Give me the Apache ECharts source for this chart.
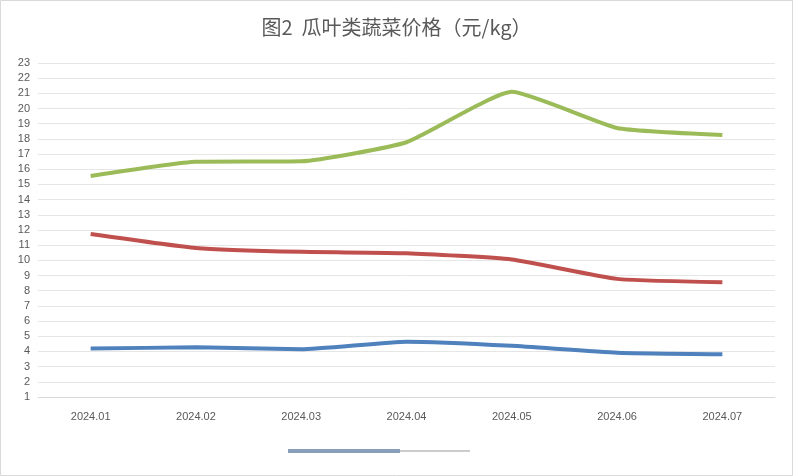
<!DOCTYPE html>
<html><head><meta charset="utf-8">
<script src="https://cdn.jsdelivr.net/npm/echarts@6/dist/echarts.min.js"></script>
<style>body{margin:0;background:#fff}#c{width:793px;height:476px}</style>
</head><body><div id="c"></div>
<script>
var months = ['2024.01', '2024.02', '2024.03', '2024.04', '2024.05', '2024.06', '2024.07'];
var greenVals = [15.56, 16.5, 16.53, 17.78, 21.10, 18.72, 18.26];
var redVals = [11.74, 10.82, 10.56, 10.47, 10.06, 8.78, 8.56];
var blueVals = [4.19, 4.27, 4.14, 4.64, 4.37, 3.92, 3.82];
var greenLabels = ['15.56', '16.5', '16.53', '17.78', '21.10', '18.72', '18.26'];
var redLabels = ['11.74', '10.82', '10.56', '10.47', '10.06', '8.78', '8.56'];
var blueLabels = ['4.19', '4.27', '4.14', '4.64', '4.37', '3.92', '3.82'];

function line(name, data, labels, color) {
  return {
    name: name, type: 'line', data: data, symbol: 'circle', symbolSize: 1, showSymbol: true,
    smooth: 0.15,
    lineStyle: { color: color, width: 4 },
    itemStyle: { color: color, opacity: 0 },
    label: {
      show: true, position: 'inside', color: '#404040', fontSize: 12,
      formatter: function (p) { return labels[p.dataIndex]; }
    }
  };
}

var chart = echarts.init(document.getElementById('c'));
chart.setOption({
  animation: false,
  title: {
    text: '图2  瓜叶类蔬菜价格（元/kg）', left: 'center', top: 12,
    textStyle: { fontSize: 20, fontWeight: 'normal', color: '#595959', fontFamily: 'Noto Sans CJK SC' }
  },
  grid: { left: 38, right: 18, top: 63, bottom: 79 },
  xAxis: {
    type: 'category', data: months,
    axisLine: { lineStyle: { color: '#d9d9d9' } },
    axisTick: { show: false },
    axisLabel: { color: '#595959', fontSize: 11, margin: 14 }
  },
  yAxis: {
    type: 'value', min: 1, max: 23, interval: 1,
    axisLine: { show: false }, axisTick: { show: false },
    axisLabel: { color: '#595959', fontSize: 11 },
    splitLine: { lineStyle: { color: '#e6e6e6' } }
  },
  graphic: [{
    type: 'rect', shape: { x: 0.5, y: 0.5, width: 792, height: 475 },
    style: { fill: 'none', stroke: '#d9d9d9', lineWidth: 1 }
  }, {
    type: 'line', shape: { x1: 288, y1: 451, x2: 400, y2: 451 },
    style: { stroke: '#6a86a8', lineWidth: 4, opacity: 0.8 }
  }, {
    type: 'line', shape: { x1: 400, y1: 451, x2: 470, y2: 451 },
    style: { stroke: '#cccccc', lineWidth: 2 }
  }],
  series: [
    line('绿', greenVals, greenLabels, '#9bbb59'),
    line('红', redVals, redLabels, '#c0504d'),
    line('蓝', blueVals, blueLabels, '#4f81bd')
  ]
});
</script></body></html>
